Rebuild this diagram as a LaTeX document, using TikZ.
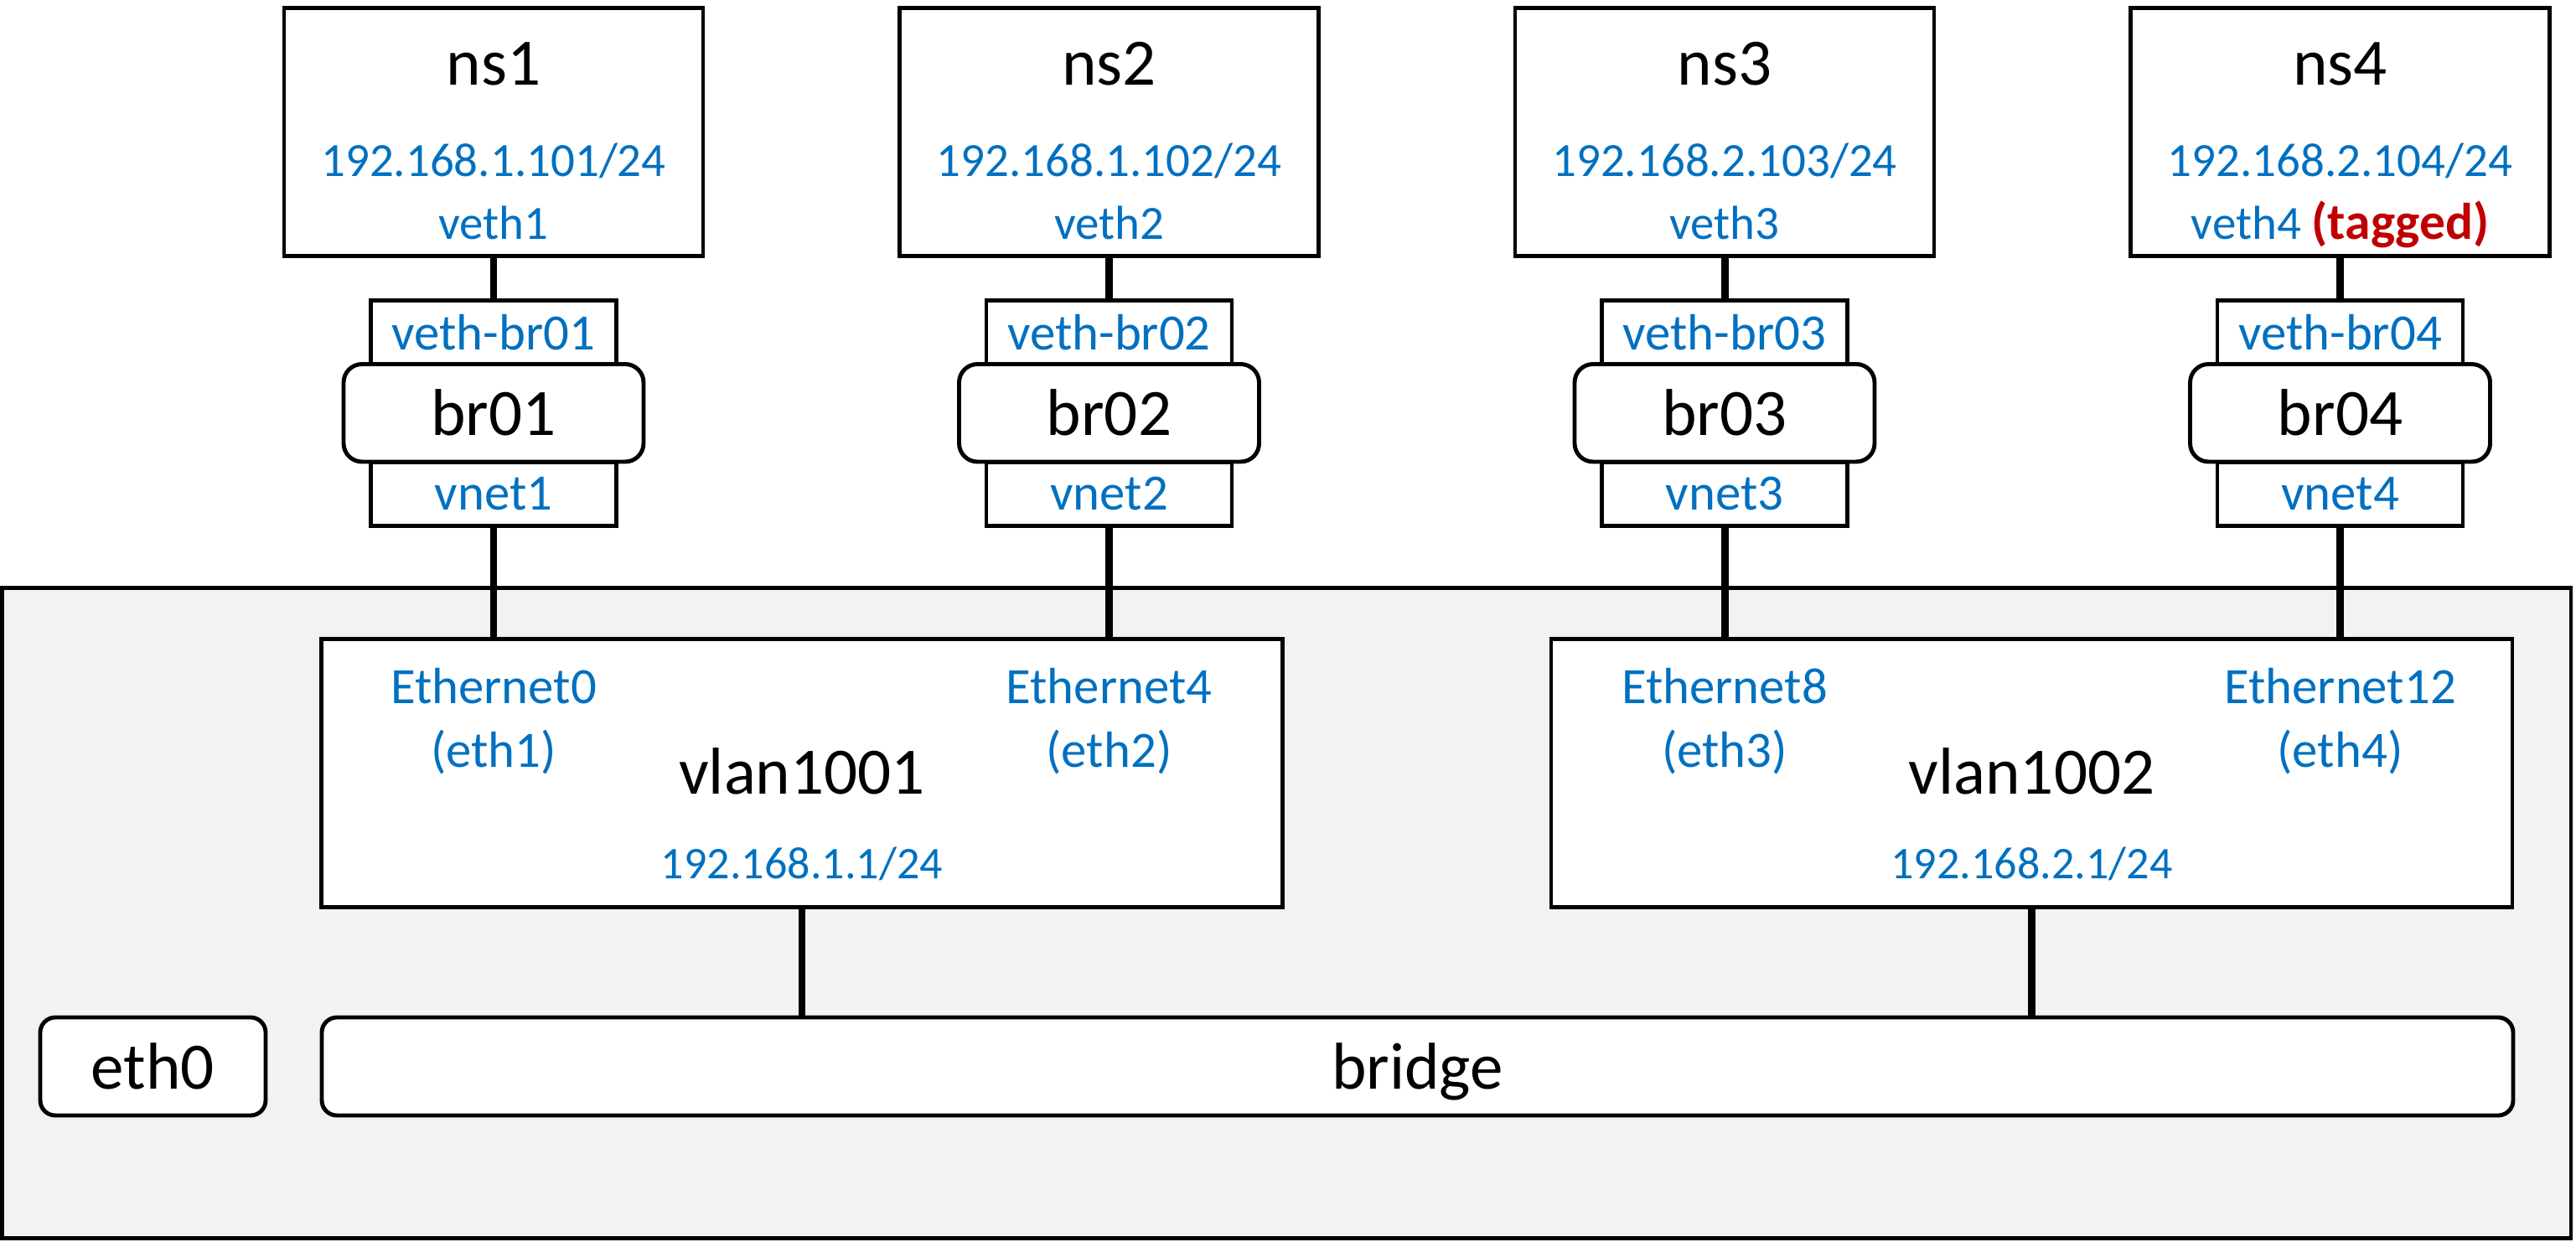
\documentclass[tikz,border=0pt]{standalone}
\usepackage{fontspec}
\setmainfont{Carlito}
\definecolor{ifblue}{HTML}{0070C0}
\definecolor{tagred}{HTML}{C00000}
\definecolor{panelgray}{HTML}{F2F2F2}
\newcommand{\bigfont}{\fontsize{22.5}{27}\selectfont}
\newcommand{\portfont}{\fontsize{17.3}{20}\selectfont}
\newcommand{\nsipfont}{\fontsize{16.2}{19}\selectfont}
\newcommand{\vlanipfont}{\fontsize{15.4}{18}\selectfont}

\begin{document}
\begin{tikzpicture}[
  box/.style={draw, line width=1.4pt, fill=white, inner sep=0pt},
  nsbox/.style={box, minimum width=5cm, minimum height=2.96cm},
  portbox/.style={box, minimum width=2.93cm, minimum height=0.76cm, text=ifblue, font=\portfont},
  brbox/.style={box, rounded corners=0.22cm, minimum width=3.58cm, minimum height=1.165cm, font=\bigfont},
  vlanbox/.style={box, minimum width=11.47cm, minimum height=3.2cm},
  roundbox/.style={box, rounded corners=0.18cm, minimum height=1.17cm, text depth=0pt, font=\bigfont},
  bigtxt/.style={anchor=base, font=\bigfont},
  iptxt/.style={anchor=base, text=ifblue, font=\nsipfont},
  porttxt/.style={anchor=base, text=ifblue, font=\portfont},
  link/.style={line width=2.55pt}
]
\useasboundingbox (0,0) rectangle (30.74,-14.82);
\filldraw[fill=panelgray, line width=1.4pt] (0.025,-7.015) rectangle (30.68,-14.775);

% namespaces
\node[nsbox] at (5.89,-1.579) (ns1) {};
\node[nsbox] at (13.235,-1.579) (ns2) {};
\node[nsbox] at (20.58,-1.579) (ns3) {};
\node[nsbox] at (27.925,-1.579) (ns4) {};

\node[bigtxt] at (5.89,-1.02) (ns1name) {ns1};
\node[iptxt] at (5.89,-2.11) (ns1ip) {192.168.1.101/24};
\node[iptxt] at (5.89,-2.86) (ns1if) {veth1};
\node[bigtxt] at (13.235,-1.02) (ns2name) {ns2};
\node[iptxt] at (13.235,-2.11) (ns2ip) {192.168.1.102/24};
\node[iptxt] at (13.235,-2.86) (ns2if) {veth2};
\node[bigtxt] at (20.58,-1.02) (ns3name) {ns3};
\node[iptxt] at (20.58,-2.11) (ns3ip) {192.168.2.103/24};
\node[iptxt] at (20.58,-2.86) (ns3if) {veth3};
\node[bigtxt] at (27.925,-1.02) (ns4name) {ns4};
\node[iptxt] at (27.925,-2.11) (ns4ip) {192.168.2.104/24};
\node[iptxt] at (27.925,-2.86) (ns4if) {veth4 \textcolor{tagred}{\fontsize{17.5}{19}\selectfont\textbf{(tagged)}}};

% linux bridges
\node[portbox] at (5.89,-3.965) (vb1) {veth-br01};
\node[portbox] at (5.89,-5.895) (vn1) {vnet1};
\node[brbox] at (5.89,-4.9275) (br1) {br01};
\node[portbox] at (13.235,-3.965) (vb2) {veth-br02};
\node[portbox] at (13.235,-5.895) (vn2) {vnet2};
\node[brbox] at (13.235,-4.9275) (br2) {br02};
\node[portbox] at (20.58,-3.965) (vb3) {veth-br03};
\node[portbox] at (20.58,-5.895) (vn3) {vnet3};
\node[brbox] at (20.58,-4.9275) (br3) {br03};
\node[portbox] at (27.925,-3.965) (vb4) {veth-br04};
\node[portbox] at (27.925,-5.895) (vn4) {vnet4};
\node[brbox] at (27.925,-4.9275) (br4) {br04};

% switch
\node[vlanbox] at (9.57,-9.225) (vlan1) {};
\node[vlanbox] at (24.245,-9.225) (vlan2) {};
\node[porttxt] at (5.89,-8.40) (eth1a) {Ethernet0};
\node[porttxt] at (5.89,-9.16) (eth1b) {(eth1)};
\node[porttxt] at (13.235,-8.40) (eth2a) {Ethernet4};
\node[porttxt] at (13.235,-9.16) (eth2b) {(eth2)};
\node[porttxt] at (20.58,-8.40) (eth3a) {Ethernet8};
\node[porttxt] at (20.58,-9.16) (eth3b) {(eth3)};
\node[porttxt] at (27.925,-8.40) (eth4a) {Ethernet12};
\node[porttxt] at (27.925,-9.16) (eth4b) {(eth4)};
\node[bigtxt] at (9.57,-9.48) (vlan1name) {vlan1001};
\node[iptxt, font=\vlanipfont] at (9.57,-10.49) (vlan1ip) {192.168.1.1/24};
\node[bigtxt] at (24.245,-9.48) (vlan2name) {vlan1002};
\node[iptxt, font=\vlanipfont] at (24.245,-10.49) (vlan2ip) {192.168.2.1/24};

\node[roundbox, minimum width=2.69cm] at (1.825,-12.725) (eth0) {eth0};
\node[roundbox, minimum width=26.15cm] at (16.915,-12.725) (bridge) {bridge};

% links
\draw[link] (ns1) -- (vb1);
\draw[link] (ns2) -- (vb2);
\draw[link] (ns3) -- (vb3);
\draw[link] (ns4) -- (vb4);
\draw[link] (vn1) -- (vn1 |- vlan1.north);
\draw[link] (vn2) -- (vn2 |- vlan1.north);
\draw[link] (vn3) -- (vn3 |- vlan2.north);
\draw[link] (vn4) -- (vn4 |- vlan2.north);
\draw[link] (vlan1) -- (vlan1 |- bridge.north);
\draw[link] (vlan2) -- (vlan2 |- bridge.north);
\end{tikzpicture}
\end{document}
